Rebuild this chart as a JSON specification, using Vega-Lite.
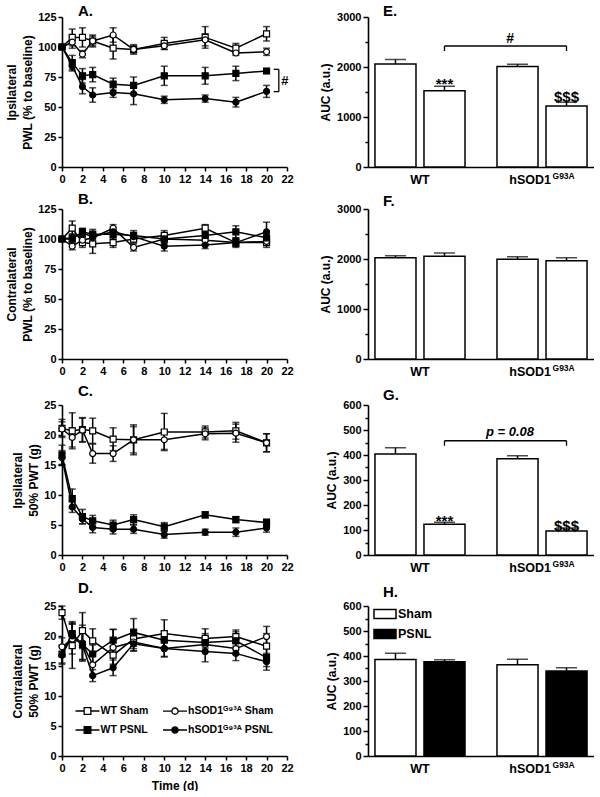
{
"$schema":"https://vega.github.io/schema/vega-lite/v6.json",
"padding":{"left":5,"top":3,"right":0,"bottom":0},
"background":"white",
"config":{
 "font":"Liberation Sans",
 "view":{"stroke":null},
 "axis":{"domainColor":"#000","domainWidth":1.6,"tickColor":"#000","tickWidth":1.5,"tickSize":4,"labelColor":"#000","labelFont":"Liberation Sans","labelFontSize":11,"labelFontWeight":"bold","labelPadding":2,"titleColor":"#000","titleFont":"Liberation Sans","titleFontSize":12,"titleFontWeight":"bold","titleLineHeight":16,"titlePadding":3,"grid":false,"labelFlush":false,"labelOverlap":false,"format":"d"},
 "title":{"font":"Liberation Sans","fontSize":15,"fontWeight":"bold","color":"#000","anchor":"start","frame":"group","dx":16,"offset":-7,"baseline":"alphabetic"},
 "text":{"font":"Liberation Sans","color":"#000"}
},
"datasets":{
 "A":[
  {"s":"WT Sham","d":0,"m":100,"e":0},{"s":"WT Sham","d":1,"m":108,"e":7},{"s":"WT Sham","d":2,"m":108,"e":8},{"s":"WT Sham","d":3,"m":105,"e":5},{"s":"WT Sham","d":5,"m":99,"e":9},{"s":"WT Sham","d":7,"m":98,"e":4},{"s":"WT Sham","d":10,"m":103,"e":5},{"s":"WT Sham","d":14,"m":108,"e":9},{"s":"WT Sham","d":17,"m":99,"e":4},{"s":"WT Sham","d":20,"m":111,"e":6},
  {"s":"hSOD1 Sham","d":0,"m":100,"e":0},{"s":"hSOD1 Sham","d":1,"m":104,"e":5},{"s":"hSOD1 Sham","d":2,"m":94,"e":3},{"s":"hSOD1 Sham","d":3,"m":105,"e":4},{"s":"hSOD1 Sham","d":5,"m":110,"e":6},{"s":"hSOD1 Sham","d":7,"m":98,"e":3},{"s":"hSOD1 Sham","d":10,"m":101,"e":3},{"s":"hSOD1 Sham","d":14,"m":106,"e":5},{"s":"hSOD1 Sham","d":17,"m":95,"e":2},{"s":"hSOD1 Sham","d":20,"m":96,"e":3},
  {"s":"WT PSNL","d":0,"m":100,"e":0},{"s":"WT PSNL","d":1,"m":87,"e":6},{"s":"WT PSNL","d":2,"m":76,"e":6},{"s":"WT PSNL","d":3,"m":77,"e":6},{"s":"WT PSNL","d":5,"m":69,"e":5},{"s":"WT PSNL","d":7,"m":68,"e":7},{"s":"WT PSNL","d":10,"m":76,"e":8},{"s":"WT PSNL","d":14,"m":76,"e":7},{"s":"WT PSNL","d":17,"m":78,"e":6},{"s":"WT PSNL","d":20,"m":80,"e":2},
  {"s":"hSOD1 PSNL","d":0,"m":100,"e":0},{"s":"hSOD1 PSNL","d":1,"m":84,"e":4},{"s":"hSOD1 PSNL","d":2,"m":67,"e":6},{"s":"hSOD1 PSNL","d":3,"m":60,"e":6},{"s":"hSOD1 PSNL","d":5,"m":62,"e":4},{"s":"hSOD1 PSNL","d":7,"m":61,"e":9},{"s":"hSOD1 PSNL","d":10,"m":56,"e":3},{"s":"hSOD1 PSNL","d":14,"m":57,"e":3},{"s":"hSOD1 PSNL","d":17,"m":54,"e":4},{"s":"hSOD1 PSNL","d":20,"m":63,"e":5}
 ],
 "B":[
  {"s":"WT Sham","d":0,"m":100,"e":0},{"s":"WT Sham","d":1,"m":109,"e":6},{"s":"WT Sham","d":2,"m":97,"e":4},{"s":"WT Sham","d":3,"m":96,"e":8},{"s":"WT Sham","d":5,"m":97,"e":4},{"s":"WT Sham","d":7,"m":100,"e":3},{"s":"WT Sham","d":10,"m":103,"e":4},{"s":"WT Sham","d":14,"m":109,"e":3},{"s":"WT Sham","d":17,"m":97,"e":4},{"s":"WT Sham","d":20,"m":97,"e":4},
  {"s":"hSOD1 Sham","d":0,"m":100,"e":0},{"s":"hSOD1 Sham","d":1,"m":94,"e":3},{"s":"hSOD1 Sham","d":2,"m":99,"e":3},{"s":"hSOD1 Sham","d":3,"m":101,"e":4},{"s":"hSOD1 Sham","d":5,"m":109,"e":3},{"s":"hSOD1 Sham","d":7,"m":93,"e":3},{"s":"hSOD1 Sham","d":10,"m":100,"e":3},{"s":"hSOD1 Sham","d":14,"m":99,"e":3},{"s":"hSOD1 Sham","d":17,"m":97,"e":3},{"s":"hSOD1 Sham","d":20,"m":98,"e":3},
  {"s":"WT PSNL","d":0,"m":100,"e":0},{"s":"WT PSNL","d":1,"m":100,"e":4},{"s":"WT PSNL","d":2,"m":106,"e":3},{"s":"WT PSNL","d":3,"m":104,"e":4},{"s":"WT PSNL","d":5,"m":104,"e":4},{"s":"WT PSNL","d":7,"m":103,"e":4},{"s":"WT PSNL","d":10,"m":100,"e":4},{"s":"WT PSNL","d":14,"m":103,"e":4},{"s":"WT PSNL","d":17,"m":106,"e":5},{"s":"WT PSNL","d":20,"m":101,"e":4},
  {"s":"hSOD1 PSNL","d":0,"m":100,"e":0},{"s":"hSOD1 PSNL","d":1,"m":101,"e":3},{"s":"hSOD1 PSNL","d":2,"m":105,"e":3},{"s":"hSOD1 PSNL","d":3,"m":102,"e":4},{"s":"hSOD1 PSNL","d":5,"m":106,"e":4},{"s":"hSOD1 PSNL","d":7,"m":102,"e":3},{"s":"hSOD1 PSNL","d":10,"m":94,"e":4},{"s":"hSOD1 PSNL","d":14,"m":95,"e":3},{"s":"hSOD1 PSNL","d":17,"m":97,"e":3},{"s":"hSOD1 PSNL","d":20,"m":106,"e":8}
 ],
 "C":[
  {"s":"WT Sham","d":0,"m":21.1,"e":1.5},{"s":"WT Sham","d":1,"m":20.7,"e":3},{"s":"WT Sham","d":2,"m":20.9,"e":2},{"s":"WT Sham","d":3,"m":20.7,"e":2.1},{"s":"WT Sham","d":5,"m":19.3,"e":1.9},{"s":"WT Sham","d":7,"m":19.2,"e":2.5},{"s":"WT Sham","d":10,"m":20.5,"e":3.1},{"s":"WT Sham","d":14,"m":20.5,"e":1},{"s":"WT Sham","d":17,"m":20.7,"e":1.4},{"s":"WT Sham","d":20,"m":18.7,"e":1.5},
  {"s":"hSOD1 Sham","d":0,"m":21.0,"e":1.2},{"s":"hSOD1 Sham","d":1,"m":19.6,"e":1.6},{"s":"hSOD1 Sham","d":2,"m":20.8,"e":2},{"s":"hSOD1 Sham","d":3,"m":16.9,"e":1.6},{"s":"hSOD1 Sham","d":5,"m":16.9,"e":1.3},{"s":"hSOD1 Sham","d":7,"m":19.2,"e":2.2},{"s":"hSOD1 Sham","d":10,"m":19.2,"e":1.6},{"s":"hSOD1 Sham","d":14,"m":20.2,"e":1},{"s":"hSOD1 Sham","d":17,"m":20.3,"e":1.5},{"s":"hSOD1 Sham","d":20,"m":18.7,"e":1.5},
  {"s":"WT PSNL","d":0,"m":16.7,"e":1.6},{"s":"WT PSNL","d":1,"m":9.4,"e":1.6},{"s":"WT PSNL","d":2,"m":6.4,"e":1.2},{"s":"WT PSNL","d":3,"m":5.7,"e":0.9},{"s":"WT PSNL","d":5,"m":5.0,"e":0.8},{"s":"WT PSNL","d":7,"m":5.9,"e":0.8},{"s":"WT PSNL","d":10,"m":4.7,"e":0.7},{"s":"WT PSNL","d":14,"m":6.7,"e":0.5},{"s":"WT PSNL","d":17,"m":5.9,"e":0.5},{"s":"WT PSNL","d":20,"m":5.4,"e":0.6},
  {"s":"hSOD1 PSNL","d":0,"m":16.2,"e":1.2},{"s":"hSOD1 PSNL","d":1,"m":8.0,"e":0.9},{"s":"hSOD1 PSNL","d":2,"m":6.0,"e":0.8},{"s":"hSOD1 PSNL","d":3,"m":4.6,"e":0.9},{"s":"hSOD1 PSNL","d":5,"m":4.3,"e":0.8},{"s":"hSOD1 PSNL","d":7,"m":4.3,"e":0.7},{"s":"hSOD1 PSNL","d":10,"m":3.4,"e":0.6},{"s":"hSOD1 PSNL","d":14,"m":3.8,"e":0.5},{"s":"hSOD1 PSNL","d":17,"m":3.8,"e":0.7},{"s":"hSOD1 PSNL","d":20,"m":4.5,"e":0.7}
 ],
 "D":[
  {"s":"WT Sham","d":0,"m":23.9,"e":1.1},{"s":"WT Sham","d":1,"m":18.4,"e":3.8},{"s":"WT Sham","d":2,"m":20.9,"e":3},{"s":"WT Sham","d":3,"m":19.2,"e":2},{"s":"WT Sham","d":5,"m":16.8,"e":1.5},{"s":"WT Sham","d":7,"m":19.5,"e":1.6},{"s":"WT Sham","d":10,"m":20.4,"e":2.3},{"s":"WT Sham","d":14,"m":19.6,"e":1.6},{"s":"WT Sham","d":17,"m":19.9,"e":1.1},{"s":"WT Sham","d":20,"m":18.3,"e":2.1},
  {"s":"hSOD1 Sham","d":0,"m":18.2,"e":1.5},{"s":"hSOD1 Sham","d":1,"m":19.5,"e":2.5},{"s":"hSOD1 Sham","d":2,"m":18.8,"e":3},{"s":"hSOD1 Sham","d":3,"m":15.2,"e":1.8},{"s":"hSOD1 Sham","d":5,"m":18.1,"e":3},{"s":"hSOD1 Sham","d":7,"m":19.0,"e":1.5},{"s":"hSOD1 Sham","d":10,"m":17.9,"e":1.3},{"s":"hSOD1 Sham","d":14,"m":18.6,"e":1.2},{"s":"hSOD1 Sham","d":17,"m":17.9,"e":1.0},{"s":"hSOD1 Sham","d":20,"m":19.9,"e":1.7},
  {"s":"WT PSNL","d":0,"m":17.0,"e":1.5},{"s":"WT PSNL","d":1,"m":20.4,"e":2},{"s":"WT PSNL","d":2,"m":18.6,"e":2.5},{"s":"WT PSNL","d":3,"m":17.0,"e":1.5},{"s":"WT PSNL","d":5,"m":19.3,"e":1.8},{"s":"WT PSNL","d":7,"m":20.6,"e":2.3},{"s":"WT PSNL","d":10,"m":19.3,"e":1.5},{"s":"WT PSNL","d":14,"m":18.9,"e":1.5},{"s":"WT PSNL","d":17,"m":19.2,"e":1.5},{"s":"WT PSNL","d":20,"m":16.4,"e":1.5},
  {"s":"hSOD1 PSNL","d":0,"m":16.8,"e":1.5},{"s":"hSOD1 PSNL","d":1,"m":20.0,"e":2},{"s":"hSOD1 PSNL","d":2,"m":18.5,"e":2.5},{"s":"hSOD1 PSNL","d":3,"m":13.4,"e":1},{"s":"hSOD1 PSNL","d":5,"m":14.7,"e":1.3},{"s":"hSOD1 PSNL","d":7,"m":18.7,"e":1.2},{"s":"hSOD1 PSNL","d":10,"m":17.9,"e":1.4},{"s":"hSOD1 PSNL","d":14,"m":17.4,"e":1.7},{"s":"hSOD1 PSNL","d":17,"m":17.1,"e":1.2},{"s":"hSOD1 PSNL","d":20,"m":15.7,"e":1.4}
 ],
 "bars":[
  {"p":"E","g":"WT","t":"Sham","m":2060,"e":90},{"p":"E","g":"WT","t":"PSNL","m":1525,"e":90},{"p":"E","g":"hSOD1","t":"Sham","m":2010,"e":45},{"p":"E","g":"hSOD1","t":"PSNL","m":1220,"e":75},
  {"p":"F","g":"WT","t":"Sham","m":2025,"e":40},{"p":"F","g":"WT","t":"PSNL","m":2055,"e":65},{"p":"F","g":"hSOD1","t":"Sham","m":1995,"e":50},{"p":"F","g":"hSOD1","t":"PSNL","m":1965,"e":60},
  {"p":"G","g":"WT","t":"Sham","m":404,"e":25},{"p":"G","g":"WT","t":"PSNL","m":123,"e":8},{"p":"G","g":"hSOD1","t":"Sham","m":385,"e":12},{"p":"G","g":"hSOD1","t":"PSNL","m":96,"e":12},
  {"p":"H","g":"WT","t":"Sham","m":386,"e":25},{"p":"H","g":"WT","t":"PSNL","m":377,"e":8},{"p":"H","g":"hSOD1","t":"Sham","m":365,"e":22},{"p":"H","g":"hSOD1","t":"PSNL","m":340,"e":13}
 ],
 "xlab":[{"g":"WT","lab":"WT"},{"g":"hSOD1","lab":"hSOD1"},{"g":"hSOD1","lab":"G93A"}]
},
"vconcat":[
 {"concat":[
   {"width":225,"height":150,"title":{"text":"A.","offset":-7.5},"data":{"name":"A"},
    "layer":[
     {"mark":{"type":"line","color":"black","strokeWidth":1.5},
      "encoding":{"x":{"field":"d","type":"quantitative","scale":{"domain":[0,22],"nice":false},"axis":{"values":[0,2,4,6,8,10,12,14,16,18,20,22],"title":null,"labelOverlap":false}},
       "y":{"field":"m","type":"quantitative","scale":{"domain":[0,125],"nice":false},"axis":{"values":[0,25,50,75,100,125],"title":["Ipsilateral","PWL (% to baseline)"],"labelOverlap":false}},
       "detail":{"field":"s","type":"nominal"}}},
     {"mark":{"type":"errorbar","ticks":{"size":7},"thickness":1.5,"color":"black"},
      "encoding":{"x":{"field":"d","type":"quantitative","axis":null},"y":{"field":"m","type":"quantitative","axis":null},"yError":{"field":"e"}}},
     {"mark":{"type":"point","filled":true,"stroke":"black","strokeWidth":1.2,"size":36,"opacity":1},
      "encoding":{"x":{"field":"d","type":"quantitative","axis":null},"y":{"field":"m","type":"quantitative","axis":null},
       "shape":{"field":"s","type":"nominal","scale":{"domain":["WT Sham","hSOD1 Sham","WT PSNL","hSOD1 PSNL"],"range":["square","circle","square","circle"]},"legend":null},
       "fill":{"field":"s","type":"nominal","scale":{"domain":["WT Sham","hSOD1 Sham","WT PSNL","hSOD1 PSNL"],"range":["white","white","black","black"]},"legend":null}}},
     {"data":{"values":[{"x":20.7,"x2":21.2,"y":81.4,"y2":81.4},{"x":20.7,"x2":21.2,"y":62.8,"y2":62.8},{"x":21.2,"x2":21.2,"y":62.8,"y2":81.4}]},
      "mark":{"type":"rule","color":"black","strokeWidth":1.3},
      "encoding":{"x":{"field":"x","type":"quantitative","axis":null},"x2":{"field":"x2"},"y":{"field":"y","type":"quantitative","axis":null},"y2":{"field":"y2"}}},
     {"data":{"values":[{"x":21.8,"y":68,"lab":"#"}]},
      "mark":{"type":"text","fontSize":13,"fontWeight":"bold","baseline":"alphabetic"},
      "encoding":{"x":{"field":"x","type":"quantitative","axis":null},"y":{"field":"y","type":"quantitative","axis":null},"text":{"field":"lab"}}}
    ],
    "resolve":{"axis":{"x":"independent","y":"independent"}}},
   {"width":226,"height":150,"title":{"text":"E.","dx":15,"offset":-8},
    "layer":[
     {"data":{"name":"bars"},"transform":[{"filter":"datum.p == 'E'"}],
      "mark":{"type":"errorbar","ticks":{"size":21},"thickness":1.5,"color":"black"},
      "encoding":{"x":{"field":"g","type":"nominal","scale":{"domain":["WT","hSOD1"],"paddingInner":0.262,"paddingOuter":0.057},"axis":{"labels":false,"ticks":false,"title":null}},
       "xOffset":{"field":"t","type":"nominal","scale":{"domain":["Sham","PSNL"],"paddingInner":0.163,"paddingOuter":0}},
       "y":{"field":"m","type":"quantitative","scale":{"domain":[0,3000],"nice":false},"axis":null},"yError":{"field":"e"}}},
     {"data":{"name":"bars"},"transform":[{"filter":"datum.p == 'E'"}],
      "mark":{"type":"bar","stroke":"black","strokeWidth":1.5},
      "encoding":{"x":{"field":"g","type":"nominal"},"xOffset":{"field":"t","type":"nominal"},
       "y":{"field":"m","type":"quantitative","axis":{"values":[0,1000,2000,3000],"title":"AUC (a.u.)","tickSize":5,"titlePadding":4,"orient":"left"}},
       "fill":{"field":"t","type":"nominal","scale":{"domain":["Sham","PSNL"],"range":["white","black"]},"legend":null}}},
     {"data":{"values":[{"m":0}]},"mark":{"type":"point","opacity":0},
      "encoding":{"y":{"field":"m","type":"quantitative","axis":{"values":[500,1500,2500],"labels":false,"domain":false,"tickSize":3,"title":null,"orient":"left"}}}},
     {"data":{"name":"xlab"},"transform":[{"filter":"datum.lab == 'WT'"}],"mark":{"type":"text","fontSize":12.5,"fontWeight":"bold","baseline":"alphabetic","dy":17},
      "encoding":{"x":{"field":"g","type":"nominal"},"y":{"datum":0,"type":"quantitative","axis":null},"text":{"field":"lab"}}},
     {"data":{"name":"xlab"},"transform":[{"filter":"datum.lab == 'hSOD1'"}],"mark":{"type":"text","fontSize":12.5,"fontWeight":"bold","baseline":"alphabetic","align":"right","dx":9,"dy":17},
      "encoding":{"x":{"field":"g","type":"nominal"},"y":{"datum":0,"type":"quantitative","axis":null},"text":{"field":"lab"}}},
     {"data":{"name":"xlab"},"transform":[{"filter":"datum.lab == 'G93A'"}],"mark":{"type":"text","fontSize":8.5,"fontWeight":"bold","baseline":"alphabetic","align":"left","dx":10.5,"dy":12},
      "encoding":{"x":{"field":"g","type":"nominal"},"y":{"datum":0,"type":"quantitative","axis":null},"text":{"field":"lab"}}},
     {"data":{"values":[{"g":"WT","t":"PSNL","y":1556,"lab":"***"},{"g":"hSOD1","t":"PSNL","y":1301,"lab":"$$$"}]},
      "mark":{"type":"text","fontSize":15,"fontWeight":"bold","baseline":"alphabetic"},
      "encoding":{"x":{"field":"g","type":"nominal"},"xOffset":{"field":"t","type":"nominal"},"y":{"field":"y","type":"quantitative","axis":null},"text":{"field":"lab"}}},
     {"data":{"values":[{"g1":"WT","g2":"hSOD1","y":2420,"y2":2420},{"g1":"WT","g2":"WT","y":2320,"y2":2420},{"g1":"hSOD1","g2":"hSOD1","y":2320,"y2":2420}]},
      "mark":{"type":"rule","color":"black","strokeWidth":1.3},
      "encoding":{"x":{"field":"g1","type":"nominal","bandPosition":0.772},"x2":{"field":"g2","bandPosition":0.772},"y":{"field":"y","type":"quantitative","axis":null},"y2":{"field":"y2"}}},
     {"data":{"values":[{"g":"WT","y":2482,"lab":"#"}]},
      "mark":{"type":"text","fontSize":14,"fontWeight":"bold","baseline":"alphabetic"},
      "encoding":{"x":{"field":"g","type":"nominal","bandPosition":1.5},"y":{"field":"y","type":"quantitative","axis":null},"text":{"field":"lab"}}}
    ],
    "resolve":{"axis":{"y":"independent"}}},
   {"width":225,"height":150,"title":{"text":"B.","offset":-4},"data":{"name":"B"},
    "layer":[
     {"mark":{"type":"line","color":"black","strokeWidth":1.5},
      "encoding":{"x":{"field":"d","type":"quantitative","scale":{"domain":[0,22],"nice":false},"axis":{"values":[0,2,4,6,8,10,12,14,16,18,20,22],"title":null,"labelOverlap":false}},
       "y":{"field":"m","type":"quantitative","scale":{"domain":[0,125],"nice":false},"axis":{"values":[0,25,50,75,100,125],"title":["Contralateral","PWL (% to baseline)"],"labelOverlap":false}},
       "detail":{"field":"s","type":"nominal"}}},
     {"mark":{"type":"errorbar","ticks":{"size":7},"thickness":1.5,"color":"black"},
      "encoding":{"x":{"field":"d","type":"quantitative","axis":null},"y":{"field":"m","type":"quantitative","axis":null},"yError":{"field":"e"}}},
     {"mark":{"type":"point","filled":true,"stroke":"black","strokeWidth":1.2,"size":36,"opacity":1},
      "encoding":{"x":{"field":"d","type":"quantitative","axis":null},"y":{"field":"m","type":"quantitative","axis":null},
       "shape":{"field":"s","type":"nominal","scale":{"domain":["WT Sham","hSOD1 Sham","WT PSNL","hSOD1 PSNL"],"range":["square","circle","square","circle"]},"legend":null},
       "fill":{"field":"s","type":"nominal","scale":{"domain":["WT Sham","hSOD1 Sham","WT PSNL","hSOD1 PSNL"],"range":["white","white","black","black"]},"legend":null}}}
    ],
    "resolve":{"axis":{"x":"independent","y":"independent"}}},
   {"width":226,"height":150,"title":{"text":"F.","dx":15,"offset":-6},
    "layer":[
     {"data":{"name":"bars"},"transform":[{"filter":"datum.p == 'F'"}],
      "mark":{"type":"errorbar","ticks":{"size":21},"thickness":1.5,"color":"black"},
      "encoding":{"x":{"field":"g","type":"nominal","scale":{"domain":["WT","hSOD1"],"paddingInner":0.262,"paddingOuter":0.057},"axis":{"labels":false,"ticks":false,"title":null}},
       "xOffset":{"field":"t","type":"nominal","scale":{"domain":["Sham","PSNL"],"paddingInner":0.163,"paddingOuter":0}},
       "y":{"field":"m","type":"quantitative","scale":{"domain":[0,3000],"nice":false},"axis":null},"yError":{"field":"e"}}},
     {"data":{"name":"bars"},"transform":[{"filter":"datum.p == 'F'"}],
      "mark":{"type":"bar","stroke":"black","strokeWidth":1.5},
      "encoding":{"x":{"field":"g","type":"nominal"},"xOffset":{"field":"t","type":"nominal"},
       "y":{"field":"m","type":"quantitative","axis":{"values":[0,1000,2000,3000],"title":"AUC (a.u.)","tickSize":5,"titlePadding":4,"orient":"left"}},
       "fill":{"field":"t","type":"nominal","scale":{"domain":["Sham","PSNL"],"range":["white","black"]},"legend":null}}},
     {"data":{"values":[{"m":0}]},"mark":{"type":"point","opacity":0},
      "encoding":{"y":{"field":"m","type":"quantitative","axis":{"values":[500,1500,2500],"labels":false,"domain":false,"tickSize":3,"title":null,"orient":"left"}}}},
     {"data":{"name":"xlab"},"transform":[{"filter":"datum.lab == 'WT'"}],"mark":{"type":"text","fontSize":12.5,"fontWeight":"bold","baseline":"alphabetic","dy":17},
      "encoding":{"x":{"field":"g","type":"nominal"},"y":{"datum":0,"type":"quantitative","axis":null},"text":{"field":"lab"}}},
     {"data":{"name":"xlab"},"transform":[{"filter":"datum.lab == 'hSOD1'"}],"mark":{"type":"text","fontSize":12.5,"fontWeight":"bold","baseline":"alphabetic","align":"right","dx":9,"dy":17},
      "encoding":{"x":{"field":"g","type":"nominal"},"y":{"datum":0,"type":"quantitative","axis":null},"text":{"field":"lab"}}},
     {"data":{"name":"xlab"},"transform":[{"filter":"datum.lab == 'G93A'"}],"mark":{"type":"text","fontSize":8.5,"fontWeight":"bold","baseline":"alphabetic","align":"left","dx":10.5,"dy":12},
      "encoding":{"x":{"field":"g","type":"nominal"},"y":{"datum":0,"type":"quantitative","axis":null},"text":{"field":"lab"}}}
    ],
    "resolve":{"axis":{"y":"independent"}}}
 ],"columns":2,"spacing":{"row":42,"column":81},"bounds":"flush"},
 {"concat":[
   {"width":225,"height":150,"title":{"text":"C.","offset":0},"data":{"name":"C"},
    "layer":[
     {"mark":{"type":"line","color":"black","strokeWidth":1.5},
      "encoding":{"x":{"field":"d","type":"quantitative","scale":{"domain":[0,22],"nice":false},"axis":{"values":[0,2,4,6,8,10,12,14,16,18,20,22],"title":null,"labelOverlap":false}},
       "y":{"field":"m","type":"quantitative","scale":{"domain":[0,25],"nice":false},"axis":{"values":[0,5,10,15,20,25],"title":["Ipsilateral","50% PWT (g)"],"labelOverlap":false}},
       "detail":{"field":"s","type":"nominal"}}},
     {"mark":{"type":"errorbar","ticks":{"size":7},"thickness":1.5,"color":"black"},
      "encoding":{"x":{"field":"d","type":"quantitative","axis":null},"y":{"field":"m","type":"quantitative","axis":null},"yError":{"field":"e"}}},
     {"mark":{"type":"point","filled":true,"stroke":"black","strokeWidth":1.2,"size":36,"opacity":1},
      "encoding":{"x":{"field":"d","type":"quantitative","axis":null},"y":{"field":"m","type":"quantitative","axis":null},
       "shape":{"field":"s","type":"nominal","scale":{"domain":["WT Sham","hSOD1 Sham","WT PSNL","hSOD1 PSNL"],"range":["square","circle","square","circle"]},"legend":null},
       "fill":{"field":"s","type":"nominal","scale":{"domain":["WT Sham","hSOD1 Sham","WT PSNL","hSOD1 PSNL"],"range":["white","white","black","black"]},"legend":null}}}
    ],
    "resolve":{"axis":{"x":"independent","y":"independent"}}},
   {"width":226,"height":150,"title":{"text":"G.","dx":15,"offset":-4},
    "layer":[
     {"data":{"name":"bars"},"transform":[{"filter":"datum.p == 'G'"}],
      "mark":{"type":"errorbar","ticks":{"size":21},"thickness":1.5,"color":"black"},
      "encoding":{"x":{"field":"g","type":"nominal","scale":{"domain":["WT","hSOD1"],"paddingInner":0.262,"paddingOuter":0.057},"axis":{"labels":false,"ticks":false,"title":null}},
       "xOffset":{"field":"t","type":"nominal","scale":{"domain":["Sham","PSNL"],"paddingInner":0.163,"paddingOuter":0}},
       "y":{"field":"m","type":"quantitative","scale":{"domain":[0,600],"nice":false},"axis":null},"yError":{"field":"e"}}},
     {"data":{"name":"bars"},"transform":[{"filter":"datum.p == 'G'"}],
      "mark":{"type":"bar","stroke":"black","strokeWidth":1.5},
      "encoding":{"x":{"field":"g","type":"nominal"},"xOffset":{"field":"t","type":"nominal"},
       "y":{"field":"m","type":"quantitative","axis":{"values":[0,100,200,300,400,500,600],"title":"AUC (a.u.)","tickSize":5,"titlePadding":4,"orient":"left"}},
       "fill":{"field":"t","type":"nominal","scale":{"domain":["Sham","PSNL"],"range":["white","black"]},"legend":null}}},
     {"data":{"values":[{"m":0}]},"mark":{"type":"point","opacity":0},
      "encoding":{"y":{"field":"m","type":"quantitative","axis":{"values":[50,150,250,350,450,550],"labels":false,"domain":false,"tickSize":3,"title":null,"orient":"left"}}}},
     {"data":{"name":"xlab"},"transform":[{"filter":"datum.lab == 'WT'"}],"mark":{"type":"text","fontSize":12.5,"fontWeight":"bold","baseline":"alphabetic","dy":17},
      "encoding":{"x":{"field":"g","type":"nominal"},"y":{"datum":0,"type":"quantitative","axis":null},"text":{"field":"lab"}}},
     {"data":{"name":"xlab"},"transform":[{"filter":"datum.lab == 'hSOD1'"}],"mark":{"type":"text","fontSize":12.5,"fontWeight":"bold","baseline":"alphabetic","align":"right","dx":9,"dy":17},
      "encoding":{"x":{"field":"g","type":"nominal"},"y":{"datum":0,"type":"quantitative","axis":null},"text":{"field":"lab"}}},
     {"data":{"name":"xlab"},"transform":[{"filter":"datum.lab == 'G93A'"}],"mark":{"type":"text","fontSize":8.5,"fontWeight":"bold","baseline":"alphabetic","align":"left","dx":10.5,"dy":12},
      "encoding":{"x":{"field":"g","type":"nominal"},"y":{"datum":0,"type":"quantitative","axis":null},"text":{"field":"lab"}}},
     {"data":{"values":[{"g":"WT","t":"PSNL","y":118,"lab":"***"},{"g":"hSOD1","t":"PSNL","y":95,"lab":"$$$"}]},
      "mark":{"type":"text","fontSize":15,"fontWeight":"bold","baseline":"alphabetic"},
      "encoding":{"x":{"field":"g","type":"nominal"},"xOffset":{"field":"t","type":"nominal"},"y":{"field":"y","type":"quantitative","axis":null},"text":{"field":"lab"}}},
     {"data":{"values":[{"g1":"WT","g2":"hSOD1","y":457,"y2":457},{"g1":"WT","g2":"WT","y":437,"y2":457},{"g1":"hSOD1","g2":"hSOD1","y":437,"y2":457}]},
      "mark":{"type":"rule","color":"black","strokeWidth":1.3},
      "encoding":{"x":{"field":"g1","type":"nominal","bandPosition":0.772},"x2":{"field":"g2","bandPosition":0.772},"y":{"field":"y","type":"quantitative","axis":null},"y2":{"field":"y2"}}},
     {"data":{"values":[{"g":"WT","y":476,"lab":"p = 0.08"}]},
      "mark":{"type":"text","fontSize":13,"fontWeight":"bold","fontStyle":"italic","baseline":"alphabetic"},
      "encoding":{"x":{"field":"g","type":"nominal","bandPosition":1.5},"y":{"field":"y","type":"quantitative","axis":null},"text":{"field":"lab"}}}
    ],
    "resolve":{"axis":{"y":"independent"}}},
   {"width":225,"height":150,"title":{"text":"D.","offset":4},"data":{"name":"D"},
    "layer":[
     {"mark":{"type":"line","color":"black","strokeWidth":1.5},
      "encoding":{"x":{"field":"d","type":"quantitative","scale":{"domain":[0,22],"nice":false},"axis":{"values":[0,2,4,6,8,10,12,14,16,18,20,22],"title":"Time (d)","titlePadding":7,"labelOverlap":false}},
       "y":{"field":"m","type":"quantitative","scale":{"domain":[0,25],"nice":false},"axis":{"values":[0,5,10,15,20,25],"title":["Contralateral","50% PWT (g)"],"labelOverlap":false}},
       "detail":{"field":"s","type":"nominal"}}},
     {"mark":{"type":"errorbar","ticks":{"size":7},"thickness":1.5,"color":"black"},
      "encoding":{"x":{"field":"d","type":"quantitative","axis":null},"y":{"field":"m","type":"quantitative","axis":null},"yError":{"field":"e"}}},
     {"mark":{"type":"point","filled":true,"stroke":"black","strokeWidth":1.2,"size":36,"opacity":1},
      "encoding":{"x":{"field":"d","type":"quantitative","axis":null},"y":{"field":"m","type":"quantitative","axis":null},
       "shape":{"field":"s","type":"nominal","scale":{"domain":["WT Sham","hSOD1 Sham","WT PSNL","hSOD1 PSNL"],"range":["square","circle","square","circle"]},"legend":null},
       "fill":{"field":"s","type":"nominal","scale":{"domain":["WT Sham","hSOD1 Sham","WT PSNL","hSOD1 PSNL"],"range":["white","white","black","black"]},"legend":null}}},
     {"transform":[{"filter":"false"}],
      "mark":{"type":"point","filled":true,"strokeWidth":1.2,"opacity":1},
      "encoding":{
       "shape":{"field":"s","type":"nominal","scale":{"domain":["WT Sham","WT PSNL","hSOD1 Sham","hSOD1 PSNL"],"range":["M-1,0H-0.28M0.28,0H1M-0.28,-0.28H0.28V0.28H-0.28Z","M-1,0H-0.28M0.28,0H1M-0.28,-0.28H0.28V0.28H-0.28Z","M-1,0H-0.26M0.26,0H1M-0.26,0A0.26,0.26,0,1,0,0.26,0A0.26,0.26,0,1,0,-0.26,0Z","M-1,0H-0.26M0.26,0H1M-0.26,0A0.26,0.26,0,1,0,0.26,0A0.26,0.26,0,1,0,-0.26,0Z"]},
        "legend":{"orient":"none","legendX":12.5,"legendY":92,"columns":2,"gridAlign":"each","title":null,"symbolSize":576,"symbolStrokeWidth":1.3,"labelFont":"Liberation Sans","labelFontSize":10.5,"labelFontWeight":"bold","labelColor":"black","labelOffset":0,"columnPadding":11.5,"rowPadding":-8,"labelExpr":"datum.label == 'hSOD1 Sham' ? 'hSOD1ᴳ⁹³ᴬ Sham' : datum.label == 'hSOD1 PSNL' ? 'hSOD1ᴳ⁹³ᴬ PSNL' : datum.label"}},
       "fill":{"field":"s","type":"nominal","scale":{"domain":["WT Sham","WT PSNL","hSOD1 Sham","hSOD1 PSNL"],"range":["white","black","white","black"]},
        "legend":{"orient":"none","legendX":12.5,"legendY":92,"columns":2,"gridAlign":"each","title":null,"symbolSize":576,"symbolStrokeWidth":1.3,"labelFont":"Liberation Sans","labelFontSize":10.5,"labelFontWeight":"bold","labelColor":"black","labelOffset":0,"columnPadding":11.5,"rowPadding":-8,"labelExpr":"datum.label == 'hSOD1 Sham' ? 'hSOD1ᴳ⁹³ᴬ Sham' : datum.label == 'hSOD1 PSNL' ? 'hSOD1ᴳ⁹³ᴬ PSNL' : datum.label"}},
       "stroke":{"field":"s","type":"nominal","scale":{"domain":["WT Sham","WT PSNL","hSOD1 Sham","hSOD1 PSNL"],"range":["black","black","black","black"]},
        "legend":{"orient":"none","legendX":12.5,"legendY":92,"columns":2,"gridAlign":"each","title":null,"symbolSize":576,"symbolStrokeWidth":1.3,"labelFont":"Liberation Sans","labelFontSize":10.5,"labelFontWeight":"bold","labelColor":"black","labelOffset":0,"columnPadding":11.5,"rowPadding":-8,"labelExpr":"datum.label == 'hSOD1 Sham' ? 'hSOD1ᴳ⁹³ᴬ Sham' : datum.label == 'hSOD1 PSNL' ? 'hSOD1ᴳ⁹³ᴬ PSNL' : datum.label"}}}}
    ],
    "resolve":{"axis":{"x":"independent","y":"independent"},"scale":{"shape":"independent","fill":"independent","stroke":"independent"}}},
   {"width":226,"height":150,"title":{"text":"H.","dx":15,"offset":0},
    "layer":[
     {"data":{"name":"bars"},"transform":[{"filter":"datum.p == 'H'"}],
      "mark":{"type":"errorbar","ticks":{"size":21},"thickness":1.5,"color":"black"},
      "encoding":{"x":{"field":"g","type":"nominal","scale":{"domain":["WT","hSOD1"],"paddingInner":0.262,"paddingOuter":0.057},"axis":{"labels":false,"ticks":false,"title":null}},
       "xOffset":{"field":"t","type":"nominal","scale":{"domain":["Sham","PSNL"],"paddingInner":0.163,"paddingOuter":0}},
       "y":{"field":"m","type":"quantitative","scale":{"domain":[0,600],"nice":false},"axis":null},"yError":{"field":"e"}}},
     {"data":{"name":"bars"},"transform":[{"filter":"datum.p == 'H'"}],
      "mark":{"type":"bar","strokeWidth":1.5},
      "encoding":{"x":{"field":"g","type":"nominal"},"xOffset":{"field":"t","type":"nominal"},
       "y":{"field":"m","type":"quantitative","axis":{"values":[0,100,200,300,400,500,600],"title":"AUC (a.u.)","tickSize":5,"titlePadding":4,"orient":"left"}},
       "fill":{"field":"t","type":"nominal","scale":{"domain":["Sham","PSNL"],"range":["white","black"]},
        "legend":{"orient":"none","legendX":5,"legendY":-4,"title":null,"symbolType":"M-1,-0.42H1V0.42H-1Z","symbolSize":484,"symbolStrokeWidth":1.5,"labelFont":"Liberation Sans","labelFontSize":12.5,"labelFontWeight":"bold","labelColor":"black","labelOffset":1,"rowPadding":-10}},
       "stroke":{"field":"t","type":"nominal","scale":{"domain":["Sham","PSNL"],"range":["black","black"]},
        "legend":{"orient":"none","legendX":5,"legendY":-4,"title":null,"symbolType":"M-1,-0.42H1V0.42H-1Z","symbolSize":484,"symbolStrokeWidth":1.5,"labelFont":"Liberation Sans","labelFontSize":12.5,"labelFontWeight":"bold","labelColor":"black","labelOffset":1,"rowPadding":-10}}}},
     {"data":{"values":[{"m":0}]},"mark":{"type":"point","opacity":0},
      "encoding":{"y":{"field":"m","type":"quantitative","axis":{"values":[50,150,250,350,450,550],"labels":false,"domain":false,"tickSize":3,"title":null,"orient":"left"}}}},
     {"data":{"name":"xlab"},"transform":[{"filter":"datum.lab == 'WT'"}],"mark":{"type":"text","fontSize":12.5,"fontWeight":"bold","baseline":"alphabetic","dy":17},
      "encoding":{"x":{"field":"g","type":"nominal"},"y":{"datum":0,"type":"quantitative","axis":null},"text":{"field":"lab"}}},
     {"data":{"name":"xlab"},"transform":[{"filter":"datum.lab == 'hSOD1'"}],"mark":{"type":"text","fontSize":12.5,"fontWeight":"bold","baseline":"alphabetic","align":"right","dx":9,"dy":17},
      "encoding":{"x":{"field":"g","type":"nominal"},"y":{"datum":0,"type":"quantitative","axis":null},"text":{"field":"lab"}}},
     {"data":{"name":"xlab"},"transform":[{"filter":"datum.lab == 'G93A'"}],"mark":{"type":"text","fontSize":8.5,"fontWeight":"bold","baseline":"alphabetic","align":"left","dx":10.5,"dy":12},
      "encoding":{"x":{"field":"g","type":"nominal"},"y":{"datum":0,"type":"quantitative","axis":null},"text":{"field":"lab"}}}
    ],
    "resolve":{"axis":{"y":"independent"},"scale":{"fill":"independent","stroke":"independent"}}}
 ],"columns":2,"spacing":{"row":51,"column":81},"bounds":"flush"}
],
"spacing":5
}
